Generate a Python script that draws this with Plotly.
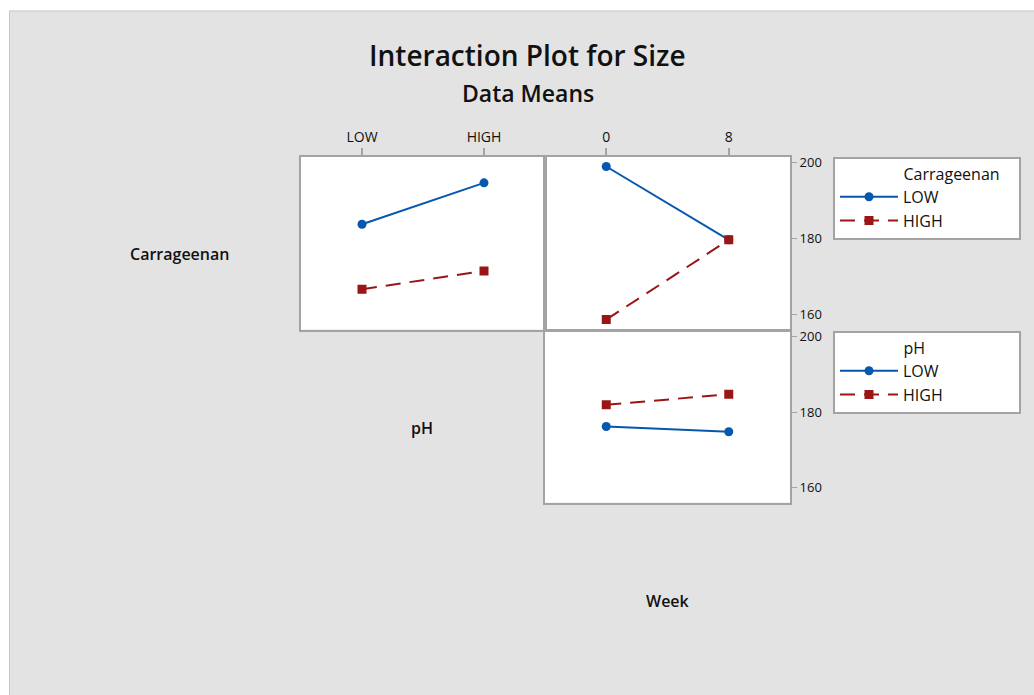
import plotly.graph_objects as go

# Factor levels
ph_levels = ["LOW", "HIGH"]
week_levels = ["0", "8"]

# Mean Size by Carrageenan level across pH
carr_low_by_ph = [183.8, 194.7]
carr_high_by_ph = [166.7, 171.5]

# Mean Size by Carrageenan level across Week
carr_low_by_week = [199.0, 179.7]
carr_high_by_week = [158.7, 179.7]

# Mean Size by pH level across Week
ph_low_by_week = [176.2, 174.8]
ph_high_by_week = [181.9, 184.7]

y_ticks = [160, 180, 200]

W, H = 1034, 695
BLUE = "#0558ae"
RED = "#9a1616"
FRAME = "#a3a3a3"
TEXT = "#111111"
FONT = "Open Sans"
NB = "\u00a0"


def px_x(a, b):
    return [a / W, b / W]


def px_y(top, bottom):
    return [1 - bottom / H, 1 - top / H]


fig = go.Figure()

low_style = dict(mode="lines+markers", line=dict(color=BLUE, width=2),
                 marker=dict(color=BLUE, symbol="circle", size=9))
high_style = dict(mode="lines+markers", line=dict(color=RED, width=2, dash="15px,9px"),
                  marker=dict(color=RED, symbol="square", size=9))

# Carrageenan traces vs pH (top-left)
fig.add_trace(go.Scatter(x=ph_levels, y=carr_low_by_ph, xaxis="x", yaxis="y",
                         showlegend=False, **low_style))
fig.add_trace(go.Scatter(x=ph_levels, y=carr_high_by_ph, xaxis="x", yaxis="y",
                         showlegend=False, **high_style))
# Carrageenan traces vs Week (top-right)
fig.add_trace(go.Scatter(x=week_levels, y=carr_low_by_week, xaxis="x2", yaxis="y2",
                         name="LOW", legend="legend", **low_style))
fig.add_trace(go.Scatter(x=week_levels, y=carr_high_by_week, xaxis="x2", yaxis="y2",
                         name="HIGH", legend="legend", **high_style))
# pH traces vs Week (bottom-right)
fig.add_trace(go.Scatter(x=week_levels, y=ph_low_by_week, xaxis="x3", yaxis="y3",
                         name="LOW", legend="legend2", **low_style))
fig.add_trace(go.Scatter(x=week_levels, y=ph_high_by_week, xaxis="x3", yaxis="y3",
                         name="HIGH", legend="legend2", **high_style))

frame = dict(showline=True, mirror=True, linecolor=FRAME, linewidth=2,
             showgrid=False, zeroline=False, fixedrange=True)
yrange = [156.1, 201.5]
top_dom = px_y(157, 329.5)
bot_dom = px_y(330.5, 502.7)
left_dom = px_x(301, 545)
right_dom = px_x(545, 790)

xtop = dict(side="top", type="category", range=[-0.5, 1.5], ticks="outside",
            ticklen=7, tickwidth=2, tickcolor=FRAME,
            tickfont=dict(family=FONT, size=14, color=TEXT), **frame)
yright = dict(range=yrange, side="right", tickvals=y_ticks, ticks="outside",
              ticklen=5, tickwidth=1, tickcolor=FRAME,
              tickfont=dict(family=FONT, size=13, color=TEXT), **frame)

legend_common = dict(xanchor="left", yanchor="top", bgcolor="white",
                     bordercolor=FRAME, borderwidth=2, itemwidth=58,
                     font=dict(family=FONT, size=16, color=TEXT))

fig.update_layout(
    width=W, height=H,
    margin=dict(l=0, r=0, t=0, b=0, autoexpand=False),
    paper_bgcolor="#e3e3e3",
    plot_bgcolor="white",
    font=dict(family=FONT, color=TEXT),
    xaxis=dict(domain=left_dom, anchor="y", categoryarray=ph_levels,
               categoryorder="array", **xtop),
    yaxis=dict(domain=top_dom, anchor="x", range=yrange, showticklabels=False,
               ticks="", **frame),
    xaxis2=dict(domain=right_dom, anchor="y2", categoryarray=week_levels,
                categoryorder="array", **xtop),
    yaxis2=dict(domain=top_dom, anchor="x2", **yright),
    xaxis3=dict(domain=right_dom, anchor="y3", type="category",
                categoryarray=week_levels, categoryorder="array", range=[-0.5, 1.5],
                showticklabels=False, ticks="", **frame),
    yaxis3=dict(domain=bot_dom, anchor="x3", **yright),
    legend=dict(x=833 / W, y=1 - 157 / H,
                title=dict(text=NB * 16 + "Carrageenan" + NB * 4,
                           font=dict(family=FONT, size=16, color=TEXT)),
                **legend_common),
    legend2=dict(x=833 / W, y=1 - 331 / H,
                 title=dict(text=NB * 16 + "pH" + NB * 22,
                            font=dict(family=FONT, size=16, color=TEXT)),
                 **legend_common),
    shapes=[
        # white page border around the gray chart area
        dict(type="rect", xref="paper", yref="paper", x0=0, x1=1, y0=1 - 10.5 / H, y1=1,
             fillcolor="white", line=dict(width=0), layer="below"),
        dict(type="rect", xref="paper", yref="paper", x0=0, x1=9.5 / W, y0=0, y1=1,
             fillcolor="white", line=dict(width=0), layer="below"),
        dict(type="line", xref="paper", yref="paper", x0=9.5 / W, x1=1,
             y0=1 - 11 / H, y1=1 - 11 / H, line=dict(color="#c9c9c9", width=1)),
        dict(type="line", xref="paper", yref="paper", x0=9.5 / W, x1=9.5 / W,
             y0=0, y1=1 - 11 / H, line=dict(color="#c9c9c9", width=1)),
    ],
    annotations=[
        dict(text="Interaction Plot for Size", x=527 / W, y=1 - 55 / H,
             xref="paper", yref="paper", showarrow=False, xanchor="center",
             yanchor="middle", font=dict(family=FONT, size=28, color=TEXT, weight=600)),
        dict(text="Data Means", x=528 / W, y=1 - 93 / H,
             xref="paper", yref="paper", showarrow=False, xanchor="center",
             yanchor="middle", font=dict(family=FONT, size=23, color=TEXT, weight=600)),
        dict(text="Carrageenan", x=179 / W, y=1 - 254 / H,
             xref="paper", yref="paper", showarrow=False, xanchor="center",
             yanchor="middle", font=dict(family=FONT, size=16, color=TEXT, weight=600)),
        dict(text="pH", x=422 / W, y=1 - 428 / H,
             xref="paper", yref="paper", showarrow=False, xanchor="center",
             yanchor="middle", font=dict(family=FONT, size=16, color=TEXT, weight=600)),
        dict(text="Week", x=668 / W, y=1 - 601 / H,
             xref="paper", yref="paper", showarrow=False, xanchor="center",
             yanchor="middle", font=dict(family=FONT, size=16, color=TEXT, weight=600)),
    ],
)

fig.write_html("out.html")
